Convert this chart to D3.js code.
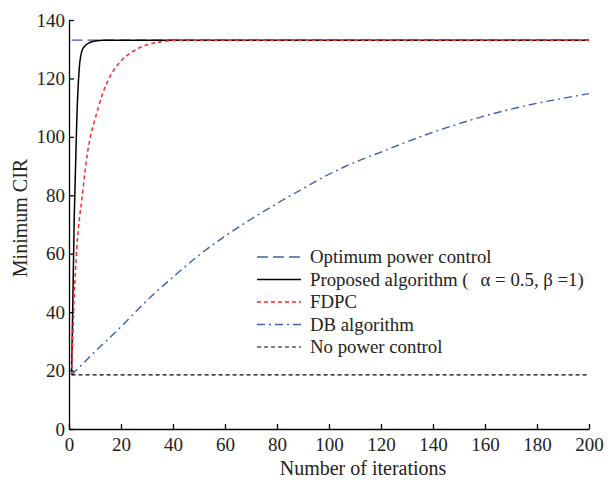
<!DOCTYPE html>
<html>
<head>
<meta charset="utf-8">
<script src="https://cdn.jsdelivr.net/npm/d3@7/dist/d3.min.js"></script>
<style>
  body { margin: 0; background: #fff; font-family: "Liberation Serif", Tinos, "Times New Roman", serif; }
</style>
</head>
<body>
<div id="wrap"><svg id="chart" width="609" height="481"></svg></div>
<script>
// ---- data ----
const xTicks = [0, 20, 40, 60, 80, 100, 120, 140, 160, 180, 200];
const yTicks = [0, 20, 40, 60, 80, 100, 120, 140];

const optimumIter = [1, 200];
const optimumVal  = [133.1, 133.1];

const proposedIter = [1, 2, 3, 4, 5, 6, 8, 10, 13, 200];
const proposedVal  = [18.5, 72, 106, 124, 129.5, 131, 132.3, 132.8, 133.1, 133.1];

const fdpcIter = [1, 2, 3, 4, 5, 6, 7, 8, 10, 13, 16, 20, 25, 30, 35, 40, 50, 200];
const fdpcVal  = [18.5, 45, 62, 72, 79, 87, 94, 99, 106, 115, 121, 126, 129.5, 131.5, 132.5, 133, 133.1, 133.1];

const dbIter = [1, 10, 20, 30, 40, 50, 60, 70, 80, 90, 100, 110, 120, 130, 140, 150, 160, 170, 180, 190, 200];
const dbVal  = [18.5, 26.5, 35, 44, 52, 59.5, 66, 71.8, 77.2, 82.3, 87.2, 91.3, 94.8, 98.3, 101.6, 104.5, 107.2, 109.5, 111.5, 113.2, 114.8];

const noPcIter = [1, 200];
const noPcVal  = [18.5, 18.5];

const seriesNames = ["Optimum power control", "Proposed algorithm (", "FDPC", "DB algorithm", "No power control"];

// ---- layout ----
const W = 609, H = 481;
const margin = { left: 69, right: 20, top: 20, bottom: 52 };
const FONT = "Liberation Serif";
const svg = d3.select("#chart").attr("font-family", FONT);

const x = d3.scaleLinear().domain([0, 200]).range([margin.left, W - margin.right]);
const y = d3.scaleLinear().domain([0, 140]).range([H - margin.bottom, margin.top]);

const styles = [
  { color: "#3f5fb0", dash: "11,5", width: 1.4 },
  { color: "#000000", dash: null, width: 1.5 },
  { color: "#ff2a2a", dash: "4,3", width: 1.5 },
  { color: "#3f5fb0", dash: "8,4,2,4", width: 1.4 },
  { color: "#000000", dash: "4,3", width: 1.2 }
];

const series = [
  { it: optimumIter, v: optimumVal },
  { it: proposedIter, v: proposedVal },
  { it: fdpcIter, v: fdpcVal },
  { it: dbIter, v: dbVal },
  { it: noPcIter, v: noPcVal }
];

// axes
const xAxis = d3.axisBottom(x).tickValues(xTicks).tickSizeInner(-5).tickSizeOuter(0).tickPadding(9);
const yAxis = d3.axisLeft(y).tickValues(yTicks).tickSizeInner(-5).tickSizeOuter(0).tickPadding(4);

const gx = svg.append("g").attr("transform", `translate(0,${H - margin.bottom})`).call(xAxis);
const gy = svg.append("g").attr("transform", `translate(${margin.left},0)`).call(yAxis);
[gx, gy].forEach(g => {
  g.attr("font-family", FONT).attr("font-size", 19);
  g.selectAll("path, line").attr("stroke", "#000").attr("stroke-width", 1.3);
  g.selectAll("text").attr("fill", "#222").attr("font-family", FONT).attr("font-size", 19);
});

// lines
const line = d3.line().x(d => x(d[0])).y(d => y(d[1])).curve(d3.curveMonotoneX);
series.forEach((s, i) => {
  const pts = s.it.map((t, k) => [t, s.v[k]]);
  svg.append("path")
    .datum(pts)
    .attr("d", line)
    .attr("fill", "none")
    .attr("stroke", styles[i].color)
    .attr("stroke-width", styles[i].width)
    .attr("stroke-dasharray", styles[i].dash);
});

// axis titles
svg.append("text")
  .attr("x", 363)
  .attr("y", 475)
  .attr("text-anchor", "middle")
  .attr("font-size", 20)
  .attr("font-family", FONT)
  .attr("fill", "#222")
  .text("Number of iterations");

svg.append("text")
  .attr("transform", "translate(27,218) rotate(-90)")
  .attr("text-anchor", "middle")
  .attr("font-size", 20)
  .attr("font-family", FONT)
  .attr("fill", "#222")
  .text("Minimum CIR");

// legend
const legX0 = 257, legX1 = 301, legTextX = 310, legY0 = 257, legDy = 22.5;
const leg = svg.append("g");
seriesNames.forEach((name, i) => {
  const yy = legY0 + i * legDy;
  leg.append("line")
    .attr("x1", legX0).attr("x2", legX1).attr("y1", yy).attr("y2", yy)
    .attr("stroke", styles[i].color)
    .attr("stroke-width", styles[i].width)
    .attr("stroke-dasharray", styles[i].dash);
  const t = leg.append("text")
    .attr("x", legTextX).attr("y", yy + 6)
    .attr("font-size", 18.8)
    .attr("font-family", FONT)
    .attr("fill", "#222");
  if (i === 1) {
    t.append("tspan").text(name);
    t.append("tspan").attr("dx", 12).text("α = 0.5, β =1)");
  } else {
    t.text(name);
  }
});
</script>
</body>
</html>
